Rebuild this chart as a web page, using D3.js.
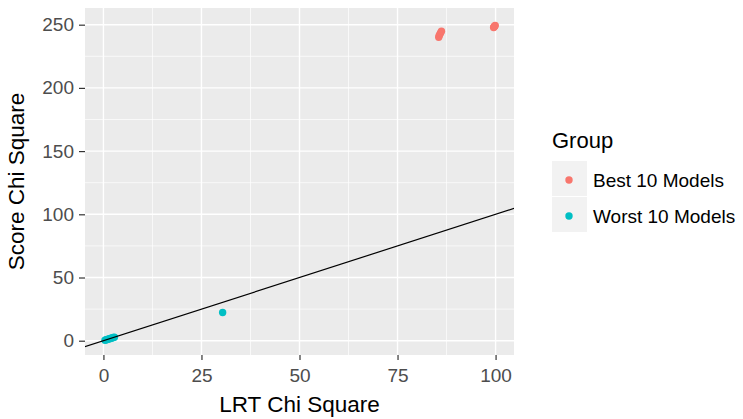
<!DOCTYPE html>
<html><head><meta charset="utf-8">
<script src="https://cdn.jsdelivr.net/npm/d3@7"></script>
<style>body{margin:0;background:#fff;} text{font-family:"Liberation Sans",Arial,sans-serif;}</style>
</head><body>
<svg id="c" width="743" height="419"></svg>
<script>
const groups = ["Best 10 Models", "Worst 10 Models"];
const colors = ["#F8766D", "#00BFC4"];
const bestX = [85.5, 85.6, 85.8, 86.0, 86.2, 99.5, 99.6, 99.7, 99.8, 99.9];
const bestY = [240.0, 241.3, 242.5, 243.7, 244.9, 247.8, 248.2, 248.6, 249.0, 249.3];
const worstX = [0.4, 0.7, 1.0, 1.3, 1.6, 1.9, 2.2, 2.5, 2.8, 30.4];
const worstY = [0.4, 0.8, 1.0, 1.4, 1.6, 2.0, 2.2, 2.6, 2.8, 22.3];
const xTicks = [0, 25, 50, 75, 100];
const yTicks = [0, 50, 100, 150, 200, 250];
const xMinor = [12.5, 37.5, 62.5, 87.5];
const yMinor = [25, 75, 125, 175, 225];
const refLine = [[-10, -10], [110, 110]];

const svg = d3.select("#c");
const L = 85, R = 514, T = 8, B = 355;
const x = d3.scaleLinear().domain([-4.7, 104.7]).range([L, R]);
const y = d3.scaleLinear().domain([-11.3, 263.2]).range([B, T]);

svg.append("rect").attr("x", L).attr("y", T).attr("width", R - L).attr("height", B - T).attr("fill", "#EBEBEB");
svg.append("clipPath").attr("id", "clip").append("rect").attr("x", L).attr("y", T).attr("width", R - L).attr("height", B - T);

const grid = svg.append("g");
grid.selectAll(".xm").data(xMinor).enter().append("line")
  .attr("x1", d => x(d)).attr("x2", d => x(d)).attr("y1", T).attr("y2", B)
  .attr("stroke", "#fff").attr("stroke-width", 0.7);
grid.selectAll(".ym").data(yMinor).enter().append("line")
  .attr("y1", d => y(d)).attr("y2", d => y(d)).attr("x1", L).attr("x2", R)
  .attr("stroke", "#fff").attr("stroke-width", 0.7);
grid.selectAll(".xM").data(xTicks).enter().append("line")
  .attr("x1", d => x(d)).attr("x2", d => x(d)).attr("y1", T).attr("y2", B)
  .attr("stroke", "#fff").attr("stroke-width", 1.4);
grid.selectAll(".yM").data(yTicks).enter().append("line")
  .attr("y1", d => y(d)).attr("y2", d => y(d)).attr("x1", L).attr("x2", R)
  .attr("stroke", "#fff").attr("stroke-width", 1.4);

// points
const pts = [];
bestX.forEach((v, i) => pts.push({x: v, y: bestY[i], g: 0}));
worstX.forEach((v, i) => pts.push({x: v, y: worstY[i], g: 1}));
svg.append("g").attr("clip-path", "url(#clip)").selectAll("circle").data(pts).enter().append("circle")
  .attr("cx", d => x(d.x)).attr("cy", d => y(d.y)).attr("r", 3.7).attr("fill", d => colors[d.g]);

// reference line
svg.append("path").attr("clip-path", "url(#clip)")
  .attr("d", d3.line().x(d => x(d[0])).y(d => y(d[1]))(refLine))
  .attr("stroke", "#000").attr("stroke-width", 1.2).attr("fill", "none");

// axes
const xa = svg.append("g").attr("transform", `translate(0,${B})`)
  .call(d3.axisBottom(x).tickValues(xTicks).tickSize(5).tickPadding(9));
const ya = svg.append("g").attr("transform", `translate(${L},0)`)
  .call(d3.axisLeft(y).tickValues(yTicks).tickSize(6).tickPadding(5));
[xa, ya].forEach(a => {
  a.select(".domain").remove();
  a.selectAll(".tick line").attr("stroke", "#333").attr("stroke-width", 1.2);
  a.selectAll(".tick text").attr("fill", "#4D4D4D").attr("font-size", 19)
   .style("font-family", "'Liberation Sans', Arial, sans-serif");
});
xa.selectAll(".tick text").attr("dy", "0.71em");

svg.append("text").attr("x", (L + R) / 2).attr("y", 412).attr("text-anchor", "middle")
  .attr("font-size", 22.5).attr("fill", "#000").text("LRT Chi Square");
svg.append("text").attr("transform", `translate(24,${(T + B) / 2}) rotate(-90)`)
  .attr("text-anchor", "middle").attr("font-size", 22.5).attr("fill", "#000").text("Score Chi Square");

// legend
const lg = svg.append("g");
lg.append("text").attr("x", 552).attr("y", 148).attr("font-size", 22).attr("fill", "#000").text("Group");
groups.forEach((g, i) => {
  const yy = 161 + i * 36;
  lg.append("rect").attr("x", 552).attr("y", yy).attr("width", 35).attr("height", 35).attr("fill", "#F2F2F2");
  lg.append("circle").attr("cx", 569).attr("cy", yy + 19).attr("r", 3.7).attr("fill", colors[i]);
  lg.append("text").attr("x", 593).attr("y", yy + 19).attr("dy", "0.36em").attr("font-size", 19).attr("fill", "#000").text(g);
});
</script>
</body></html>
